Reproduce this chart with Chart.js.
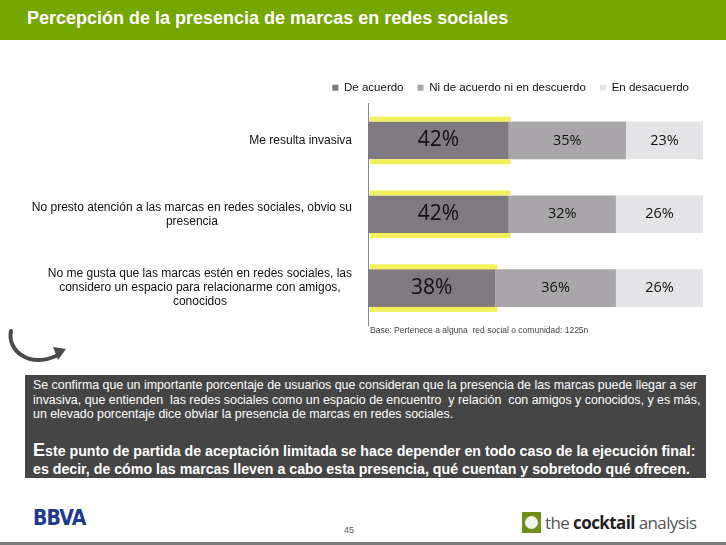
<!DOCTYPE html>
<html lang="es">
<head>
<meta charset="UTF-8">
<title>Percepción de la presencia de marcas en redes sociales</title>
<script src="https://cdn.jsdelivr.net/npm/chart.js"></script>
<style>
    body { margin: 0; width: 726px; height: 545px; position: relative; overflow: hidden; background: #fff; font-family: "Liberation Sans", Arial, sans-serif; }
    .header { position: absolute; left: 0; top: 0; width: 726px; height: 40px; background: #76a600; }
    .header h1 { margin: 0; position: absolute; left: 27px; top: 8px; color: #fff; font-size: 18px; font-weight: bold; }
    .chart-box { position: absolute; left: 0; top: 58px; width: 726px; height: 272px; }
    .base { position: absolute; left: 370px; top: 325px; font-size: 8.5px; color: #444; }
    .arrow { position: absolute; left: 4px; top: 326px; }
    .nota { position: absolute; left: 25px; top: 375px; width: 681px; height: 103px; background: #454545; color: #fff; }
    .nota p { margin: 0; position: absolute; left: 8px; white-space: nowrap; }
    .p1 { top: 3px; font-size: 12.4px; line-height: 14.5px; }
    .p2 { top: 67px; font-size: 14.2px; line-height: 17.5px; font-weight: bold; }
    .p2 .cap { font-size: 18px; }
    .bbva { position: absolute; left: 33px; top: 506px; font: bold 21px "Liberation Sans Narrow", "DejaVu Sans Condensed", sans-serif; color: #1d3a8c; letter-spacing: -0.8px; }
    .pag { position: absolute; left: 344px; top: 525px; font-size: 9px; color: #555; }
    .logo { position: absolute; left: 522px; top: 510px; height: 24px; display: flex; align-items: center; }
    .logo .ico { width: 19px; height: 21px; background: #6f8e1c; position: relative; margin-right: 4px; }
    .logo .ico::after { content: ""; position: absolute; left: 3px; top: 4px; width: 13px; height: 13px; border-radius: 50%; background: #fff; opacity: 0.9; }
    .logo span { font-family: "Open Sans", sans-serif; font-size: 17px; color: #555; letter-spacing: -0.6px; }
    .logo b { color: #222; }
    .linea { position: absolute; left: 0; top: 542px; width: 726px; height: 3px; background: #7a7a7a; }
</style>
</head>
<body>

<div class="header"><h1>Percepción de la presencia de marcas en redes sociales</h1></div>

<div class="chart-box"><canvas id="marcasChart"></canvas></div>

<div class="base">Base: Pertenece a alguna &nbsp;red social o comunidad: 1225n</div>

<svg class="arrow" width="70" height="44" viewBox="0 0 70 44">
    <path d="M7 5 C3 24, 24 42, 52 30" fill="none" stroke="#4a4a4a" stroke-width="4" stroke-linecap="round"/>
    <polygon points="49,21 62,23 54,34" fill="#4a4a4a"/>
</svg>

<div class="nota">
    <p class="p1">Se confirma que un importante porcentaje de usuarios que consideran que la presencia de las marcas puede llegar a ser<br>invasiva, que entienden &nbsp;las redes sociales como un espacio de encuentro &nbsp;y relación &nbsp;con amigos y conocidos, y es más,<br>un elevado porcentaje dice obviar la presencia de marcas en redes sociales.</p>
    <p class="p2"><span class="cap">E</span>ste punto de partida de aceptación limitada se hace depender en todo caso de la ejecución final:<br>es decir, de cómo las marcas lleven a cabo esta presencia, qué cuentan y sobretodo qué ofrecen.</p>
</div>

<div class="bbva">BBVA</div>
<div class="pag">45</div>
<div class="logo"><div class="ico"></div><span>the <b>cocktail</b> analysis</span></div>
<div class="linea"></div>

<script>
    const afirmaciones = [
        ["Me resulta invasiva"],
        ["No presto atención a las marcas en redes sociales, obvio su", "presencia"],
        ["No me gusta que las marcas estén en redes sociales, las", "considero un espacio para relacionarme con amigos,", "conocidos"]
    ];
    const deAcuerdo = [42, 42, 38];
    const niDeAcuerdo = [35, 32, 36];
    const enDesacuerdo = [23, 26, 26];

    // etiquetas del eje: bloque alineado a la derecha, líneas centradas
    const etiquetasEje = {
        id: 'etiquetasEje',
        afterDraw(chart) {
            const ctx = chart.ctx, y = chart.scales.y;
            ctx.save();
            ctx.font = '12px "Liberation Sans", Arial, sans-serif';
            ctx.fillStyle = '#111';
            ctx.textAlign = 'center';
            ctx.textBaseline = 'middle';
            afirmaciones.forEach((lineas, i) => {
                const ancho = Math.max(...lineas.map(l => ctx.measureText(l).width));
                const cx = chart.chartArea.left - 16 - ancho / 2;
                const cy = y.getPixelForValue(i);
                const lh = 14;
                lineas.forEach((l, k) => {
                    ctx.fillText(l, cx, cy + (k - (lineas.length - 1) / 2) * lh);
                });
            });
            ctx.restore();
        }
    };

    // franjas amarillas alrededor de "De acuerdo"
    const resalte = {
        id: 'resalte',
        afterDatasetsDraw(chart) {
            const ctx = chart.ctx;
            ctx.save();
            ctx.fillStyle = '#f3f05c';
            chart.getDatasetMeta(0).data.forEach(el => {
                const x0 = el.base + 2, w = el.x + 2 - x0;
                const top = el.y - el.height / 2, bot = el.y + el.height / 2;
                ctx.fillRect(x0, top - 5, w, 5);
                ctx.fillRect(x0, bot, w, 5);
            });
            ctx.restore();
        }
    };

    // porcentajes dentro de las barras
    const valores = {
        id: 'valores',
        afterDatasetsDraw(chart) {
            const ctx = chart.ctx;
            ctx.save();
            ctx.fillStyle = '#111';
            ctx.textAlign = 'center';
            ctx.textBaseline = 'middle';
            chart.data.datasets.forEach((ds, d) => {
                ctx.font = (d === 0 ? '21px' : '14.5px') + ' "Open Sans", sans-serif';
                chart.getDatasetMeta(d).data.forEach((el, i) => {
                    ctx.fillText(ds.data[i] + '%', (el.base + el.x) / 2, el.y);
                });
            });
            ctx.restore();
        }
    };

    new Chart(document.getElementById('marcasChart'), {
        type: 'bar',
        data: {
            labels: afirmaciones.map(a => a.join(' ')),
            datasets: [
                { label: 'De acuerdo', data: deAcuerdo, backgroundColor: '#7e7a7f' },
                { label: 'Ni de acuerdo ni en descuerdo', data: niDeAcuerdo, backgroundColor: '#a8a6a9' },
                { label: 'En desacuerdo', data: enDesacuerdo, backgroundColor: '#e4e3e5' }
            ]
        },
        options: {
            indexAxis: 'y',
            responsive: true,
            maintainAspectRatio: false,
            animation: false,
            layout: { padding: { top: 10, right: 23, bottom: 5, left: 0 } },
            datasets: { bar: { categoryPercentage: 1, barPercentage: 0.51 } },
            plugins: {
                legend: {
                    position: 'top',
                    align: 'end',
                    labels: {
                        boxWidth: 6,
                        boxHeight: 6,
                        padding: 14,
                        color: '#111',
                        font: { family: '"Liberation Sans", Arial, sans-serif', size: 11.5 }
                    }
                },
                tooltip: { enabled: false }
            },
            scales: {
                x: { stacked: true, min: 0, max: 100, display: false },
                y: {
                    stacked: true,
                    grid: { display: false },
                    border: { display: true, color: '#888', width: 1 },
                    ticks: { display: false },
                    afterFit: s => { s.width = 368; }
                }
            }
        },
        plugins: [etiquetasEje, resalte, valores]
    });
</script>

</body>
</html>
